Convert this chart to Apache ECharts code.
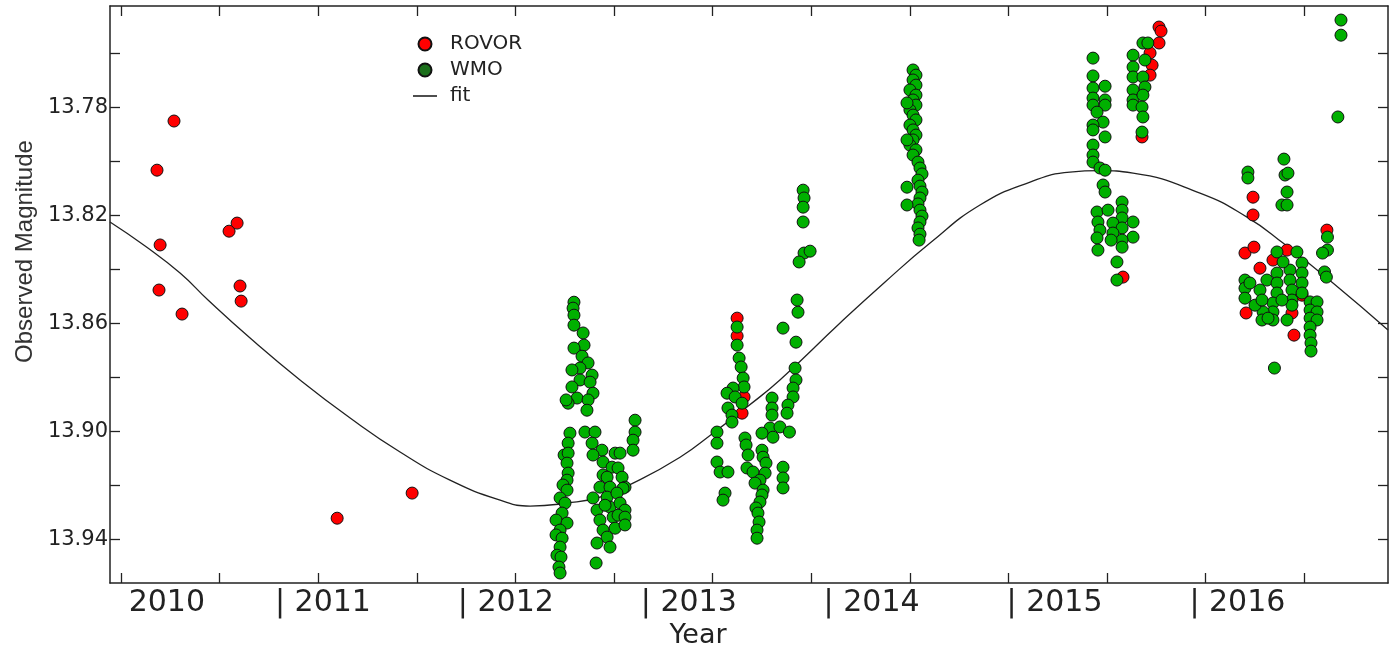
<!DOCTYPE html>
<html>
<head>
<meta charset="utf-8">
<title>Observed Magnitude</title>
<script src="https://cdn.jsdelivr.net/npm/echarts@6/dist/echarts.min.js"></script>
<style>
  html, body { margin: 0; padding: 0; background: #fff; }
  #chart { width: 1395px; height: 645px; }
</style>
</head>
<body>
<div id="chart"></div>
<script>
// [decimal year, observed magnitude]
const rovor = [
  [2010.355, 13.8032], [2010.448, 13.7850], [2010.372, 13.8309], [2010.366, 13.8476],
  [2010.492, 13.8565], [2010.749, 13.8258], [2010.793, 13.8228], [2010.809, 13.8461],
  [2010.815, 13.8517], [2011.340, 13.9321], [2011.750, 13.9228],
  [2013.527, 13.8580], [2013.527, 13.8646], [2013.565, 13.8872], [2013.554, 13.8932],
  [2015.637, 13.8428], [2015.834, 13.7502], [2015.845, 13.7517], [2015.834, 13.7561],
  [2015.785, 13.7598], [2015.796, 13.7643], [2015.785, 13.7680], [2015.741, 13.7909],
  [2016.348, 13.8132], [2016.348, 13.8198], [2016.304, 13.8339], [2016.353, 13.8317],
  [2016.310, 13.8561], [2016.386, 13.8395], [2016.457, 13.8365], [2016.534, 13.8328],
  [2016.616, 13.8495], [2016.561, 13.8561], [2016.752, 13.8254], [2016.572, 13.8643]
];

const wmo = [
  // 2012
  [2012.635, 13.8521], [2012.630, 13.8543], [2012.635, 13.8569], [2012.635, 13.8606],
  [2012.685, 13.8635], [2012.690, 13.8680], [2012.635, 13.8691], [2012.679, 13.8721],
  [2012.712, 13.8746], [2012.668, 13.8765], [2012.624, 13.8772], [2012.734, 13.8791],
  [2012.668, 13.8809], [2012.723, 13.8817], [2012.624, 13.8835], [2012.739, 13.8858],
  [2012.652, 13.8876], [2012.603, 13.8895], [2012.712, 13.8883], [2012.592, 13.8883],
  [2012.706, 13.8921],
  [2012.613, 13.9006], [2012.603, 13.9043], [2012.581, 13.9087], [2012.603, 13.9080],
  [2012.597, 13.9117], [2012.603, 13.9154], [2012.597, 13.9180], [2012.575, 13.9198],
  [2012.597, 13.9217], [2012.559, 13.9246], [2012.586, 13.9265], [2012.570, 13.9302],
  [2012.537, 13.9328], [2012.597, 13.9339], [2012.559, 13.9365], [2012.537, 13.9383],
  [2012.570, 13.9395], [2012.559, 13.9428], [2012.542, 13.9458], [2012.564, 13.9465],
  [2012.553, 13.9502], [2012.559, 13.9524],
  [2012.695, 13.9002], [2012.750, 13.9002], [2012.734, 13.9043], [2012.788, 13.9069],
  [2012.739, 13.9087], [2012.794, 13.9113], [2012.860, 13.9080], [2012.887, 13.9080],
  [2012.843, 13.9132], [2012.876, 13.9135], [2012.794, 13.9161], [2012.816, 13.9169],
  [2012.898, 13.9169], [2012.777, 13.9206], [2012.832, 13.9206], [2012.914, 13.9206],
  [2012.903, 13.9210], [2012.739, 13.9246], [2012.816, 13.9243], [2012.870, 13.9228],
  [2012.761, 13.9291], [2012.832, 13.9280], [2012.887, 13.9265], [2012.805, 13.9273],
  [2012.914, 13.9291], [2012.777, 13.9328], [2012.849, 13.9317], [2012.876, 13.9310],
  [2012.914, 13.9317], [2012.794, 13.9365], [2012.860, 13.9358], [2012.914, 13.9346],
  [2012.816, 13.9391], [2012.761, 13.9413], [2012.832, 13.9428], [2012.756, 13.9487],
  [2012.969, 13.8958], [2012.969, 13.9002], [2012.958, 13.9032], [2012.958, 13.9069],
  // 2013
  [2013.527, 13.8613], [2013.527, 13.8680], [2013.538, 13.8728], [2013.549, 13.8761],
  [2013.560, 13.8802], [2013.565, 13.8835], [2013.505, 13.8839], [2013.472, 13.8858],
  [2013.516, 13.8872], [2013.554, 13.8895], [2013.477, 13.8913], [2013.499, 13.8939],
  [2013.499, 13.8965], [2013.417, 13.9002], [2013.417, 13.9043], [2013.417, 13.9113],
  [2013.434, 13.9150], [2013.477, 13.9150], [2013.461, 13.9228], [2013.450, 13.9254],
  [2013.570, 13.9024], [2013.576, 13.9050], [2013.587, 13.9087], [2013.581, 13.9135],
  [2013.614, 13.9150], [2013.663, 13.9069], [2013.669, 13.9095], [2013.685, 13.9117],
  [2013.680, 13.9154], [2013.652, 13.9180], [2013.625, 13.9191], [2013.669, 13.9217],
  [2013.663, 13.9235], [2013.652, 13.9261], [2013.630, 13.9283], [2013.641, 13.9302],
  [2013.647, 13.9335], [2013.636, 13.9365], [2013.636, 13.9395],
  [2013.718, 13.8876], [2013.718, 13.8913], [2013.718, 13.8939], [2013.707, 13.8987],
  [2013.761, 13.8983], [2013.723, 13.9021], [2013.663, 13.9006], [2013.813, 13.9002],
  [2013.778, 13.9132], [2013.778, 13.9172], [2013.778, 13.9209],
  [2013.844, 13.8765], [2013.849, 13.8809], [2013.833, 13.8839], [2013.833, 13.8872],
  [2013.805, 13.8902], [2013.800, 13.8932], [2013.778, 13.8617], [2013.849, 13.8669],
  [2013.860, 13.8558], [2013.855, 13.8513], [2013.893, 13.8339], [2013.866, 13.8372],
  [2013.926, 13.8332], [2013.888, 13.8106], [2013.893, 13.8135], [2013.888, 13.8169],
  [2013.888, 13.8224],
  // 2014
  [2014.489, 13.7661], [2014.505, 13.7680], [2014.489, 13.7698], [2014.505, 13.7717],
  [2014.472, 13.7735], [2014.505, 13.7754], [2014.489, 13.7772], [2014.505, 13.7791],
  [2014.472, 13.7809], [2014.489, 13.7828], [2014.505, 13.7846], [2014.472, 13.7865],
  [2014.489, 13.7883], [2014.505, 13.7902], [2014.489, 13.7920], [2014.472, 13.7939],
  [2014.505, 13.7957], [2014.489, 13.7976], [2014.456, 13.7783], [2014.456, 13.7920],
  [2014.516, 13.8002], [2014.527, 13.8024], [2014.538, 13.8046], [2014.516, 13.8069],
  [2014.527, 13.8091], [2014.538, 13.8113], [2014.527, 13.8135], [2014.516, 13.8157],
  [2014.527, 13.8180], [2014.538, 13.8202], [2014.527, 13.8224], [2014.516, 13.8246],
  [2014.527, 13.8269], [2014.522, 13.8291], [2014.456, 13.8095], [2014.456, 13.8161],
  // 2015
  [2015.473, 13.7617], [2015.473, 13.7683], [2015.473, 13.7728], [2015.473, 13.7765],
  [2015.473, 13.7791], [2015.539, 13.7721], [2015.539, 13.7772], [2015.539, 13.7791],
  [2015.495, 13.7817], [2015.528, 13.7854], [2015.473, 13.7865], [2015.473, 13.7883],
  [2015.539, 13.7909], [2015.473, 13.7939], [2015.473, 13.7976], [2015.473, 13.8002],
  [2015.511, 13.8024], [2015.539, 13.8032], [2015.528, 13.8087], [2015.539, 13.8113],
  [2015.495, 13.8187], [2015.500, 13.8224], [2015.511, 13.8254], [2015.495, 13.8283],
  [2015.500, 13.8328],
  [2015.632, 13.8150], [2015.632, 13.8180], [2015.632, 13.8209], [2015.582, 13.8228],
  [2015.692, 13.8224], [2015.632, 13.8246], [2015.582, 13.8265], [2015.692, 13.8280],
  [2015.632, 13.8291], [2015.632, 13.8317], [2015.604, 13.8372], [2015.604, 13.8439],
  [2015.555, 13.8180], [2015.572, 13.8291],
  [2015.692, 13.7606], [2015.692, 13.7650], [2015.692, 13.7687], [2015.692, 13.7735],
  [2015.692, 13.7772], [2015.692, 13.7791], [2015.746, 13.7561], [2015.757, 13.7624],
  [2015.746, 13.7687], [2015.757, 13.7724], [2015.746, 13.7754], [2015.741, 13.7798],
  [2015.746, 13.7835], [2015.741, 13.7891], [2015.773, 13.7561],
  // 2016
  [2016.320, 13.8039], [2016.320, 13.8061], [2016.517, 13.7991], [2016.523, 13.8050],
  [2016.539, 13.8043], [2016.534, 13.8113], [2016.506, 13.8161], [2016.534, 13.8161],
  [2016.304, 13.8439], [2016.304, 13.8469], [2016.304, 13.8506], [2016.479, 13.8335],
  [2016.588, 13.8335], [2016.424, 13.8439], [2016.479, 13.8413], [2016.479, 13.8450],
  [2016.479, 13.8487], [2016.457, 13.8524], [2016.457, 13.8557], [2016.457, 13.8587],
  [2016.403, 13.8557], [2016.386, 13.8476], [2016.550, 13.8402], [2016.550, 13.8439],
  [2016.561, 13.8476], [2016.561, 13.8513], [2016.616, 13.8376], [2016.616, 13.8413],
  [2016.616, 13.8450], [2016.616, 13.8487], [2016.561, 13.8532], [2016.660, 13.8520],
  [2016.698, 13.8520], [2016.660, 13.8550], [2016.698, 13.8557], [2016.660, 13.8580],
  [2016.698, 13.8587], [2016.660, 13.8613], [2016.660, 13.8643], [2016.665, 13.8672],
  [2016.665, 13.8702], [2016.739, 13.8409], [2016.749, 13.8428], [2016.755, 13.8280],
  [2016.755, 13.8328], [2016.728, 13.8339], [2016.465, 13.8765], [2016.397, 13.8587],
  [2016.430, 13.8580], [2016.359, 13.8532], [2016.331, 13.8450], [2016.397, 13.8513],
  [2016.512, 13.8372], [2016.506, 13.8513], [2016.534, 13.8587],
  [2016.829, 13.7476], [2016.829, 13.7532], [2016.812, 13.7835]
];

// fitted curve
const fit = [
  [2010.098, 13.8224], [2010.290, 13.8313], [2010.481, 13.8413], [2010.634, 13.8513],
  [2010.864, 13.8654], [2011.137, 13.8809], [2011.411, 13.8950], [2011.684, 13.9076],
  [2011.957, 13.9180], [2012.231, 13.9254], [2012.395, 13.9276], [2012.597, 13.9265],
  [2012.777, 13.9243], [2012.958, 13.9191], [2013.215, 13.9095], [2013.395, 13.9006],
  [2013.581, 13.8909], [2013.761, 13.8809], [2014.090, 13.8598], [2014.336, 13.8446],
  [2014.582, 13.8302], [2014.855, 13.8161], [2015.129, 13.8076], [2015.347, 13.8039],
  [2015.511, 13.8034], [2015.692, 13.8043], [2016.058, 13.8117], [2016.315, 13.8206],
  [2016.512, 13.8302], [2016.785, 13.8450], [2017.086, 13.8624]
];

const xMin = 2010.098;
const xMax = 2017.086;
const xTicks = [2010.159, 2010.698, 2011.237, 2011.776, 2012.315, 2012.854, 2013.393,
  2013.932, 2014.471, 2015.010, 2015.549, 2016.088, 2016.627];
const xLabelValues = [2010.2, 2011, 2012, 2013, 2014, 2015, 2016];
const xLabelTexts = ['2010', '| 2011', '| 2012', '| 2013', '| 2014', '| 2015', '| 2016'];

const yMin = 13.7424;
const yMax = 13.9561;
const yTicks = [13.76, 13.78, 13.80, 13.82, 13.84, 13.86, 13.88, 13.90, 13.92, 13.94];
const yLabels = [13.78, 13.82, 13.86, 13.90, 13.94];

const textColor = '#222';
const axisColor = '#222';
const tickFont = 'DejaVu Sans';

const chart = echarts.init(document.getElementById('chart'));

const frameLine = { show: true, onZero: false, lineStyle: { color: axisColor, width: 1.5 } };
const tickStyle = { color: axisColor, width: 1.3 };

const option = {
  animation: false,
  backgroundColor: '#fff',
  grid: { left: 110, right: 7, top: 6, bottom: 62, outerBoundsMode: 'none' },
  legend: {
    orient: 'vertical',
    left: 408,
    top: 29,
    itemWidth: 24,
    itemHeight: 13,
    itemGap: 6,
    symbolKeepAspect: true,
    textStyle: { fontFamily: tickFont, fontSize: 20, color: textColor, padding: [0, 0, 0, 8] },
    data: [
      { name: 'ROVOR' },
      { name: 'WMO', itemStyle: { color: '#1b6f1b' } },
      { name: 'fit', icon: 'path://M0,0H24V1.6H0Z' }
    ]
  },
  xAxis: [
    {
      type: 'value',
      min: xMin,
      max: xMax,
      position: 'bottom',
      name: 'Year',
      nameLocation: 'middle',
      nameGap: 31,
      nameTextStyle: { fontFamily: tickFont, fontSize: 27, color: textColor, padding: [0, 102, 0, 0] },
      axisLine: frameLine,
      splitLine: { show: false },
      axisTick: { inside: true, length: 10, customValues: xTicks, lineStyle: tickStyle },
      axisLabel: {
        customValues: xLabelValues,
        align: 'left',
        margin: 5,
        fontFamily: tickFont,
        fontSize: 30,
        color: textColor,
        formatter: (v) => {
          const i = xLabelValues.findIndex(x => Math.abs(x - v) < 1e-6);
          return i >= 0 ? xLabelTexts[i] : '';
        }
      }
    },
    {
      type: 'value',
      min: xMin,
      max: xMax,
      position: 'top',
      axisLine: frameLine,
      splitLine: { show: false },
      axisTick: { inside: true, length: 10, customValues: xTicks, lineStyle: tickStyle },
      axisLabel: { show: false }
    }
  ],
  yAxis: [
    {
      type: 'value',
      inverse: true,
      min: yMin,
      max: yMax,
      position: 'left',
      name: 'Observed Magnitude',
      nameLocation: 'middle',
      nameGap: 66,
      nameTextStyle: {
        fontFamily: "'Liberation Sans Narrow', 'Liberation Sans', sans-serif",
        fontSize: 24,
        color: '#333',
        padding: [0, 0, 0, 86]
      },
      axisLine: frameLine,
      splitLine: { show: false },
      axisTick: { inside: true, length: 10, customValues: yTicks, lineStyle: tickStyle },
      axisLabel: {
        customValues: yLabels,
        margin: 2,
        fontFamily: tickFont,
        fontSize: 21,
        color: textColor,
        formatter: (v) => v.toFixed(2)
      }
    },
    {
      type: 'value',
      inverse: true,
      min: yMin,
      max: yMax,
      position: 'right',
      axisLine: frameLine,
      splitLine: { show: false },
      axisTick: { inside: true, length: 10, customValues: yTicks, lineStyle: tickStyle },
      axisLabel: { show: false }
    }
  ],
  series: [
    {
      name: 'fit',
      type: 'line',
      data: fit,
      smooth: 0.5,
      symbol: 'none',
      z: 1,
      itemStyle: { color: '#222' },
      lineStyle: { color: '#222', width: 1.3 }
    },
    {
      name: 'ROVOR',
      type: 'scatter',
      data: rovor,
      symbol: 'circle',
      symbolSize: 12,
      z: 2,
      itemStyle: { color: '#ff0000', borderColor: '#111', borderWidth: 1, opacity: 1 }
    },
    {
      name: 'WMO',
      type: 'scatter',
      data: wmo,
      symbol: 'circle',
      symbolSize: 12,
      z: 3,
      itemStyle: { color: '#00b000', borderColor: '#111', borderWidth: 1, opacity: 1 }
    }
  ]
};

chart.setOption(option);
</script>
</body>
</html>
